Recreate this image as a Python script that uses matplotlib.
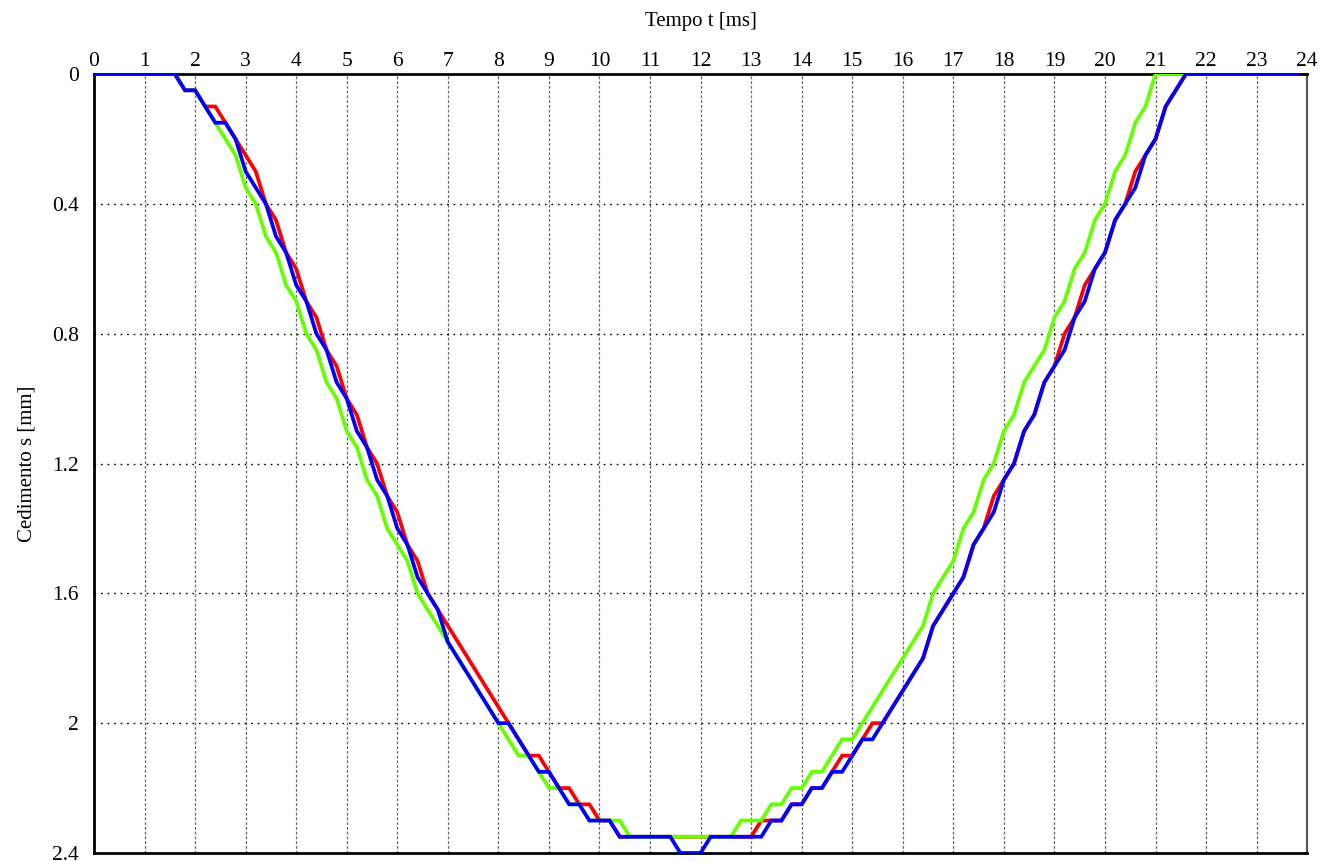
import numpy as np
import matplotlib
matplotlib.use("Agg")
import matplotlib.pyplot as plt

plt.rcParams["font.family"] = ["Liberation Serif", "DejaVu Serif"]

# time base: one sample every 0.2 ms, 0 .. 23.8 ms
t = np.round(np.arange(120) * 0.2, 1)

s_red = [
    0, 0, 0, 0, 0, 0, 0, 0, 0, 0.05,
    0.05, 0.10, 0.10, 0.15, 0.20, 0.25, 0.30, 0.40, 0.45, 0.55,
    0.60, 0.70, 0.75, 0.85, 0.90, 1.00, 1.05, 1.15, 1.20, 1.30,
    1.35, 1.45, 1.50, 1.60, 1.65, 1.70, 1.75, 1.80, 1.85, 1.90,
    1.95, 2.00, 2.05, 2.10, 2.10, 2.15, 2.20, 2.20, 2.25, 2.25,
    2.30, 2.30, 2.35, 2.35, 2.35, 2.35, 2.35, 2.35, 2.35, 2.35,
    2.35, 2.35, 2.35, 2.35, 2.35, 2.35, 2.30, 2.30, 2.30, 2.25,
    2.25, 2.20, 2.20, 2.15, 2.10, 2.10, 2.05, 2.00, 2.00, 1.95,
    1.90, 1.85, 1.80, 1.70, 1.65, 1.60, 1.55, 1.45, 1.40, 1.30,
    1.25, 1.20, 1.10, 1.05, 0.95, 0.90, 0.80, 0.75, 0.65, 0.60,
    0.55, 0.45, 0.40, 0.30, 0.25, 0.20, 0.10, 0.05, 0, 0,
    0, 0, 0, 0, 0, 0, 0, 0, 0, 0,
]

s_green = [
    0, 0, 0, 0, 0, 0, 0, 0, 0, 0.05,
    0.05, 0.10, 0.15, 0.20, 0.25, 0.35, 0.40, 0.50, 0.55, 0.65,
    0.70, 0.80, 0.85, 0.95, 1.00, 1.10, 1.15, 1.25, 1.30, 1.40,
    1.45, 1.50, 1.60, 1.65, 1.70, 1.75, 1.80, 1.85, 1.90, 1.95,
    2.00, 2.05, 2.10, 2.10, 2.15, 2.20, 2.20, 2.25, 2.25, 2.30,
    2.30, 2.30, 2.30, 2.35, 2.35, 2.35, 2.35, 2.35, 2.35, 2.35,
    2.35, 2.35, 2.35, 2.35, 2.30, 2.30, 2.30, 2.25, 2.25, 2.20,
    2.20, 2.15, 2.15, 2.10, 2.05, 2.05, 2.00, 1.95, 1.90, 1.85,
    1.80, 1.75, 1.70, 1.60, 1.55, 1.50, 1.40, 1.35, 1.25, 1.20,
    1.10, 1.05, 0.95, 0.90, 0.85, 0.75, 0.70, 0.60, 0.55, 0.45,
    0.40, 0.30, 0.25, 0.15, 0.10, 0, 0, 0, 0, 0,
    0, 0, 0, 0, 0, 0, 0, 0, 0, 0,
]

s_blue = [
    0, 0, 0, 0, 0, 0, 0, 0, 0, 0.05,
    0.05, 0.10, 0.15, 0.15, 0.20, 0.30, 0.35, 0.40, 0.50, 0.55,
    0.65, 0.70, 0.80, 0.85, 0.95, 1.00, 1.10, 1.15, 1.25, 1.30,
    1.40, 1.45, 1.55, 1.60, 1.65, 1.75, 1.80, 1.85, 1.90, 1.95,
    2.00, 2.00, 2.05, 2.10, 2.15, 2.15, 2.20, 2.25, 2.25, 2.30,
    2.30, 2.30, 2.35, 2.35, 2.35, 2.35, 2.35, 2.35, 2.40, 2.40,
    2.40, 2.35, 2.35, 2.35, 2.35, 2.35, 2.35, 2.30, 2.30, 2.25,
    2.25, 2.20, 2.20, 2.15, 2.15, 2.10, 2.05, 2.05, 2.00, 1.95,
    1.90, 1.85, 1.80, 1.70, 1.65, 1.60, 1.55, 1.45, 1.40, 1.35,
    1.25, 1.20, 1.10, 1.05, 0.95, 0.90, 0.85, 0.75, 0.70, 0.60,
    0.55, 0.45, 0.40, 0.35, 0.25, 0.20, 0.10, 0.05, 0, 0,
    0, 0, 0, 0, 0, 0, 0, 0, 0, 0,
]

x_ticks = list(range(0, 25))
y_ticks = [0, 0.4, 0.8, 1.2, 1.6, 2.0, 2.4]
y_labels = ["0", "0.4", "0.8", "1.2", "1.6", "2", "2.4"]

fig = plt.figure(figsize=(13.22, 8.61), dpi=100)
ax = fig.add_axes([0.0711, 0.0093, 0.9177, 0.9047])

lw = 2.7
ax.plot(t, s_red, color="#ff0000", lw=lw, solid_joinstyle="miter", zorder=3)
ax.plot(t, s_green, color="#66ff00", lw=lw, solid_joinstyle="miter", zorder=4)
ax.plot(t, s_blue, color="#0000ff", lw=lw, solid_joinstyle="miter", zorder=5)

ax.set_xlim(0, 24)
ax.set_ylim(2.4, 0)

ax.xaxis.tick_top()
ax.xaxis.set_label_position("top")
ax.set_xticks(x_ticks)
ax.set_yticks(y_ticks)
ax.set_yticklabels(y_labels)
ax.tick_params(axis="both", length=0, labelsize=15.5, colors="black")
ax.tick_params(axis="x", pad=2)
ax.tick_params(axis="y", pad=11)

# grids: fine dashed verticals every ms, dotted horizontals every 0.4 mm
for x in x_ticks[1:-1]:
    ax.axvline(x, color="#666666", lw=0.9, ls=(0, (2.2, 1.6)), zorder=1)
for y in y_ticks[1:-1]:
    ax.axhline(y, color="black", lw=1.0, ls=(0, (1.2, 3.5)), zorder=1)

for side in ["top", "left", "bottom"]:
    ax.spines[side].set_linewidth(2.0)
    ax.spines[side].set_color("black")
ax.spines["right"].set_linewidth(1.5)
ax.spines["right"].set_color("#555555")

ax.set_xlabel("Tempo t [ms]", fontsize=15, labelpad=19)
ax.set_ylabel("Cedimento s [mm]", fontsize=15, labelpad=11)

fig.savefig("out.png", dpi=100)
